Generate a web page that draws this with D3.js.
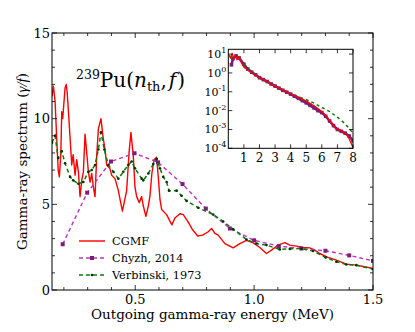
<!DOCTYPE html>
<html><head><meta charset="utf-8">
<script src="https://cdn.jsdelivr.net/npm/d3@7"></script>
<style>
body{margin:0;background:#fff}
svg{display:block}
text{font-family:"DejaVu Serif",serif;fill:#000}
</style>
</head><body>
<svg id="c" width="415" height="332"></svg>
<script>
// ---- data ----
const cgmfE=[0.150,0.156,0.163,0.170,0.176,0.181,0.187,0.191,0.195,0.200,0.205,0.210,0.214,0.221,0.229,0.233,0.239,0.247,0.254,0.261,0.268,0.275,0.282,0.289,0.296,0.303,0.310,0.317,0.324,0.331,0.338,0.345,0.356,0.364,0.373,0.380,0.394,0.401,0.415,0.429,0.446,0.464,0.474,0.482,0.492,0.499,0.506,0.517,0.527,0.534,0.545,0.555,0.562,0.570,0.579,0.590,0.597,0.604,0.611,0.632,0.654,0.667,0.688,0.702,0.721,0.742,0.763,0.784,0.807,0.821,0.835,0.849,0.877,0.912,0.940,0.968,0.996,1.024,1.052,1.073,1.101,1.129,1.150,1.178,1.206,1.234,1.255,1.276,1.311,1.346,1.388,1.430,1.465,1.499];
const cgmfV=[11.3,11.9,11.0,8.8,7.0,6.6,7.9,10.4,10.0,10.9,11.8,12.0,11.5,10.0,8.2,7.3,7.9,6.7,7.6,6.9,5.45,6.4,6.9,9.1,8.0,6.9,6.3,6.8,6.0,5.45,7.8,9.4,10.0,9.0,8.2,7.3,7.07,6.7,6.5,5.8,4.6,5.8,8.0,9.2,7.8,6.0,5.45,5.1,5.45,4.9,4.3,4.9,5.5,6.8,7.6,7.75,6.6,5.3,4.7,4.4,3.8,4.2,4.45,4.4,4.0,3.5,3.15,3.2,3.4,3.59,3.3,3.2,2.71,2.46,2.71,2.9,2.75,2.48,2.13,2.33,2.62,2.77,2.62,2.56,2.48,2.46,2.33,2.13,1.9,1.74,1.51,1.45,1.36,1.26];
const chyzhE=[0.195,0.298,0.398,0.497,0.596,0.699,0.797,0.898,1.0,1.104,1.199,1.30,1.40,1.5];
const chyzhV=[2.67,5.68,7.5,7.98,7.45,6.18,4.75,3.59,2.9,2.56,2.42,2.29,2.02,1.70];
const verbE=[0.150,0.163,0.176,0.191,0.205,0.226,0.239,0.261,0.282,0.303,0.317,0.331,0.345,0.356,0.370,0.387,0.408,0.429,0.450,0.471,0.485,0.499,0.527,0.534,0.555,0.576,0.590,0.604,0.618,0.632,0.642,0.674,0.695,0.716,0.765,0.828,0.870,0.912,0.968,1.010,1.052,1.108,1.150,1.199,1.248,1.301,1.346,1.388,1.430,1.499];
const verbV=[8.6,9.0,7.7,8.1,7.4,6.6,6.4,6.2,6.3,6.9,7.0,7.3,8.2,9.2,8.2,7.3,6.9,6.5,6.9,7.3,7.5,7.1,6.5,6.4,6.8,7.35,7.65,7.1,6.6,6.3,5.8,5.8,5.5,5.2,4.8,4.4,4.0,3.55,2.95,2.71,2.62,2.37,2.4,2.42,2.28,1.9,1.65,1.49,1.45,1.22];

// inset (full energy range, log scale)
const insCgmfE=[0.05,0.15,0.25,0.35,0.45,0.55,0.65,0.8,1.0,1.5,2.0,2.5,3.0,3.5,4.0,4.5,5.0,5.5,6.0,6.3,6.6,6.9,7.2,7.5,7.7,8.0];
const insCgmfV=[9,6,11,6,9,5,7,4,2.0,1.0,0.56,0.35,0.20,0.126,0.079,0.050,0.032,0.018,0.0089,0.005,0.0022,0.0011,0.00089,0.00063,0.0004,0.00011];
const insChyzhE=[0.2,0.3,0.5,0.7,1.0,1.25,1.5,1.75,2.0,2.25,2.5,2.75,3.0,3.25,3.5,3.75,4.0,4.25,4.5,4.75,5.0,5.25,5.5,5.75,6.0,6.25,6.5,6.75,7.0,7.25,7.5,7.75,8.0];
const insChyzhV=[2.7,5.7,8.0,6.2,2.9,1.6,1.1,0.8,0.56,0.44,0.35,0.26,0.2,0.155,0.12,0.095,0.075,0.058,0.045,0.034,0.026,0.019,0.014,0.01,0.0079,0.005,0.0028,0.0016,0.001,0.0008,0.00063,0.00045,0.00025];
const insVerbE=[0.15,0.3,0.5,0.7,1.0,1.5,2.0,2.5,3.0,3.5,4.0,4.5,5.0,5.5,6.0,6.5,7.0,7.5,8.0];
const insVerbV=[8.5,6.3,7.6,5.6,2.8,1.1,0.56,0.35,0.2,0.126,0.079,0.054,0.038,0.025,0.0148,0.0089,0.0045,0.002,0.00063];

const xMajor=[0.5,1.0,1.5];
const xMinor=[0.2,0.3,0.4,0.6,0.7,0.8,0.9,1.1,1.2,1.3,1.4];
const yMajor=[0,5,10,15];
const yMinor=[1,2,3,4,6,7,8,9,11,12,13,14];
const insXTicks=[1,2,3,4,5,6,7,8];
const insYTicks=[1e-4,1e-3,1e-2,1e-1,1,10];
const insYExp=["-4","-3","-2","-1","0","1"];
const legendLabels=["CGMF","Chyzh, 2014","Verbinski, 1973"];

// ---- colours ----
const RED="#ff0000", MAG="#c032c0", PUR="#7b1c7b", GRN="#0b7a0b", DGRN="#003300";

const svg=d3.select("#c");
const L=52,R=373,T=33,B=290;
const x=d3.scaleLinear().domain([0.15,1.5]).range([L,R]);
const y=d3.scaleLinear().domain([0,15]).range([B,T]);

const defs=svg.append("defs");
defs.append("clipPath").attr("id","cm").append("rect").attr("x",L).attr("y",T).attr("width",R-L).attr("height",B-T);

svg.append("rect").attr("x",0).attr("y",0).attr("width",415).attr("height",332).attr("fill","#fff");

// ---- main series ----
const gm=svg.append("g").attr("clip-path","url(#cm)");
const line=d3.line().x(d=>x(d[0])).y(d=>y(d[1]));
gm.append("path").datum(d3.zip(cgmfE,cgmfV)).attr("d",line)
  .attr("fill","none").attr("stroke",RED).attr("stroke-width",1.4).attr("stroke-linejoin","round");
const chyzh=d3.zip(chyzhE,chyzhV);
gm.append("path").datum(chyzh).attr("d",line)
  .attr("fill","none").attr("stroke",MAG).attr("stroke-width",1.4).attr("stroke-dasharray","4,3");
gm.selectAll("rect.ch").data(chyzh).join("rect").attr("class","ch")
  .attr("x",d=>x(d[0])-2).attr("y",d=>y(d[1])-2).attr("width",4).attr("height",4).attr("fill",PUR);
const verb=d3.zip(verbE,verbV);
gm.append("path").datum(verb).attr("d",line)
  .attr("fill","none").attr("stroke",GRN).attr("stroke-width",1.5).attr("stroke-dasharray","4,3");
gm.selectAll("circle.vb").data(verb).join("circle").attr("class","vb")
  .attr("cx",d=>x(d[0])).attr("cy",d=>y(d[1])).attr("r",1.3).attr("fill",DGRN);

// ---- main frame and ticks ----
svg.append("rect").attr("x",L).attr("y",T).attr("width",R-L).attr("height",B-T)
  .attr("fill","none").attr("stroke","#000").attr("stroke-width",1);
const tk=svg.append("g").attr("stroke","#000").attr("stroke-width",0.8);
function xt(vals,len){vals.forEach(v=>{const px=x(v);
  tk.append("line").attr("x1",px).attr("x2",px).attr("y1",B).attr("y2",B-len);
  tk.append("line").attr("x1",px).attr("x2",px).attr("y1",T).attr("y2",T+len);});}
function yt(vals,len){vals.forEach(v=>{const py=y(v);
  tk.append("line").attr("y1",py).attr("y2",py).attr("x1",L).attr("x2",L+len);
  tk.append("line").attr("y1",py).attr("y2",py).attr("x1",R).attr("x2",R-len);});}
xt(xMajor,5);xt(xMinor,3);yt(yMajor,5);yt(yMinor,3);

svg.selectAll("text.xl").data(xMajor).join("text").attr("class","xl")
  .attr("x",d=>x(d)).attr("y",304).attr("text-anchor","middle").attr("font-size",13)
  .text(d=>d3.format(".1f")(d));
svg.selectAll("text.yl").data(yMajor).join("text").attr("class","yl")
  .attr("x",L-2).attr("y",d=>y(d)).attr("dy","0.36em").attr("text-anchor","end").attr("font-size",13)
  .text(d=>d);

svg.append("text").attr("x",(L+R)/2).attr("y",319).attr("text-anchor","middle").attr("font-size",13.5)
  .text("Outgoing gamma-ray energy (MeV)");
const yl=svg.append("text").attr("transform",`translate(27,${(T+B)/2}) rotate(-90)`)
  .attr("text-anchor","middle").attr("font-size",13.5);
yl.append("tspan").text("Gamma-ray spectrum (");
yl.append("tspan").attr("font-style","italic").attr("font-family","Liberation Serif, serif").attr("font-size",15).text("γ/f");
yl.append("tspan").text(")");

// ---- title ----
const tt=svg.append("text").attr("x",76).attr("y",87).attr("font-family","Liberation Serif, serif").attr("font-size",20);
tt.append("tspan").attr("font-size",12.5).attr("dy",-8).text("239");
tt.append("tspan").attr("dy",8).text("Pu(");
tt.append("tspan").attr("font-style","italic").text("n");
tt.append("tspan").attr("font-size",13).attr("dy",4).text("th");
tt.append("tspan").attr("dy",-4).text(",");
tt.append("tspan").attr("font-style","italic").attr("dx",2).text("f");
tt.append("tspan").attr("dx",1).text(")");

// ---- legend ----
const lg=svg.append("g");
const rowsY=[241,258,275];
[0,1,2].forEach(i=>{
  const yy=rowsY[i];
  if(i===0){lg.append("line").attr("x1",79).attr("x2",105).attr("y1",yy).attr("y2",yy).attr("stroke",RED).attr("stroke-width",1.4);}
  if(i===1){lg.append("line").attr("x1",79).attr("x2",105).attr("y1",yy).attr("y2",yy).attr("stroke",MAG).attr("stroke-width",1.4).attr("stroke-dasharray","4,3");
    lg.append("rect").attr("x",90).attr("y",yy-2).attr("width",4).attr("height",4).attr("fill",PUR);}
  if(i===2){lg.append("line").attr("x1",79).attr("x2",105).attr("y1",yy).attr("y2",yy).attr("stroke",GRN).attr("stroke-width",1.5).attr("stroke-dasharray","4,3");
    lg.append("circle").attr("cx",92).attr("cy",yy).attr("r",1.3).attr("fill",DGRN);}
  lg.append("text").attr("x",112).attr("y",yy).attr("dy","0.36em").attr("font-size",11.3).text(legendLabels[i]);
});

// ---- inset ----
const iL=228.3,iR=353,iT=49.3,iB=148.3;
const ix=d3.scaleLinear().domain([0,8]).range([iL,iR]);
const iy=d3.scaleLog().domain([1e-4,18]).range([iB,iT]);
defs.append("clipPath").attr("id","ci").append("rect").attr("x",iL).attr("y",iT).attr("width",iR-iL).attr("height",iB-iT);
svg.append("rect").attr("x",iL).attr("y",iT).attr("width",iR-iL).attr("height",iB-iT).attr("fill","#fff");
const gi=svg.append("g").attr("clip-path","url(#ci)");
const iline=d3.line().x(d=>ix(d[0])).y(d=>iy(d[1]));
const iCh=d3.zip(insChyzhE,insChyzhV);
gi.append("path").datum(iCh).attr("d",iline).attr("fill","none").attr("stroke",PUR).attr("stroke-width",2.6);
gi.selectAll("rect.ich").data(iCh).join("rect").attr("class","ich")
  .attr("x",d=>ix(d[0])-1.8).attr("y",d=>iy(d[1])-1.8).attr("width",3.6).attr("height",3.6).attr("fill",PUR);
const iVb=d3.zip(insVerbE,insVerbV);
gi.append("path").datum(iVb).attr("d",iline).attr("fill","none").attr("stroke",GRN).attr("stroke-width",1.5).attr("stroke-dasharray","3,3");
gi.append("path").datum(d3.zip(insCgmfE,insCgmfV)).attr("d",iline).attr("fill","none").attr("stroke",RED).attr("stroke-width",1.3).attr("stroke-linejoin","round");
svg.append("rect").attr("x",iL).attr("y",iT).attr("width",iR-iL).attr("height",iB-iT)
  .attr("fill","none").attr("stroke","#000").attr("stroke-width",1);
insXTicks.forEach(v=>{const px=ix(v);
  svg.append("line").attr("x1",px).attr("x2",px).attr("y1",iB).attr("y2",iB-4).attr("stroke","#000").attr("stroke-width",0.8);
  svg.append("line").attr("x1",px).attr("x2",px).attr("y1",iT).attr("y2",iT+4).attr("stroke","#000").attr("stroke-width",0.8);});
insYTicks.forEach(v=>{const py=iy(v);
  svg.append("line").attr("y1",py).attr("y2",py).attr("x1",iL).attr("x2",iL+4).attr("stroke","#000").attr("stroke-width",0.8);
  svg.append("line").attr("y1",py).attr("y2",py).attr("x1",iR).attr("x2",iR-4).attr("stroke","#000").attr("stroke-width",0.8);});
svg.selectAll("text.ixl").data(insXTicks).join("text").attr("class","ixl")
  .attr("x",d=>ix(d)).attr("y",162).attr("text-anchor","middle").attr("font-size",12).text(d=>d);
insYTicks.forEach((v,i)=>{
  const t=svg.append("text").attr("x",iL-2).attr("y",iy(v)+4).attr("text-anchor","end").attr("font-size",11);
  t.append("tspan").text("10");
  t.append("tspan").attr("font-size",8).attr("dy",-5).text(insYExp[i]);
});
</script>
</body></html>
